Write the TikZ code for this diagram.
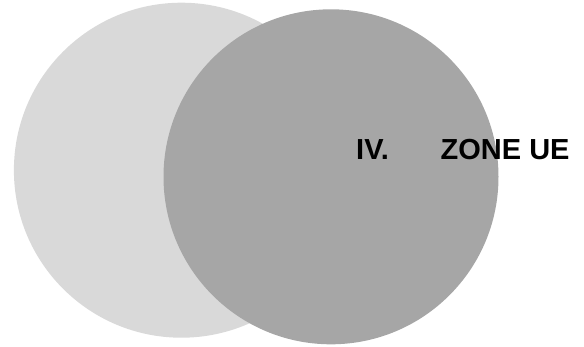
\documentclass[tikz,border=0pt]{standalone}
\usepackage{fontspec}
\setmainfont{Liberation Sans}
\definecolor{lightc}{HTML}{D9D9D9}
\definecolor{darkc}{HTML}{A6A6A6}
\begin{document}
\begin{tikzpicture}[x=1pt,y=-1pt,
  disc/.style={circle,draw=none,minimum size=335pt,inner sep=0pt},
  lbl/.style={anchor=base west,inner sep=0pt,font=\fontsize{29}{34}\selectfont\bfseries}]
\useasboundingbox (0,0) rectangle (584,346);
\node[disc,fill=lightc] (left) at (181.4,170.2) {};
\node[disc,fill=darkc] (right) at (331,176.8) {};
\node[lbl] (num) at (356,159) {IV.};
\node[lbl] (zone) at (440.5,159) {ZONE UE};
\end{tikzpicture}
\end{document}
